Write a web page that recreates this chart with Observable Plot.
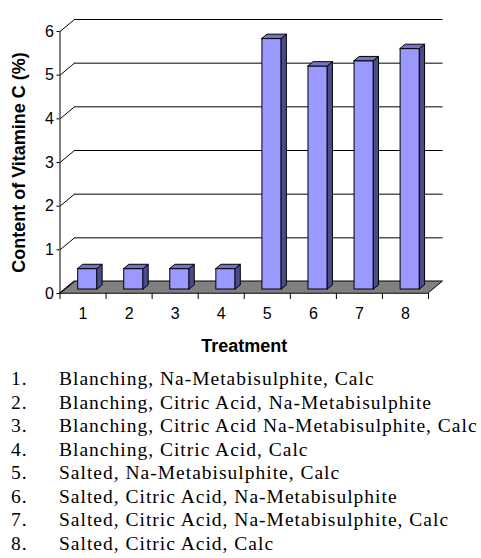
<!DOCTYPE html>
<html>
<head>
<meta charset="utf-8">
<script src="https://cdn.jsdelivr.net/npm/d3@7"></script>
<script src="https://cdn.jsdelivr.net/npm/@observablehq/plot@0.6"></script>
<style>
  html, body { margin: 0; padding: 0; background: #fff; }
  #chart svg { display: block; }
  #list { font-family: "Liberation Serif", "Times New Roman", serif; font-size: 19.5px; letter-spacing: 1px; line-height: 23.5px; color: #000; padding-top: 7px; }
  .row { position: relative; height: 23.5px; white-space: nowrap; }
  .num { position: absolute; left: 11px; }
  .desc { position: absolute; left: 59px; }
</style>
</head>
<body>
<div id="chart"></div>
<div id="list"></div>
<script>
// ---- data ----
const treatments = [1, 2, 3, 4, 5, 6, 7, 8];
const vitaminC = [0.47, 0.47, 0.47, 0.47, 5.74, 5.11, 5.23, 5.51];
const yTicks = [0, 1, 2, 3, 4, 5, 6];
const descriptions = [
  "Blanching, Na-Metabisulphite, Calc",
  "Blanching, Citric Acid, Na-Metabisulphite",
  "Blanching, Citric Acid Na-Metabisulphite, Calc",
  "Blanching, Citric Acid, Calc",
  "Salted, Na-Metabisulphite, Calc",
  "Salted, Citric Acid, Na-Metabisulphite",
  "Salted, Citric Acid, Na-Metabisulphite, Calc",
  "Salted, Citric Acid, Calc"
];
const yLabel = "Content of Vitamine C (%)";
const xLabel = "Treatment";

// ---- geometry ----
const W = 481, H = 360;
const mL = 59.5, mR = 53, mT = 31, mB = 67;
const n = treatments.length;
const x0 = 0.5, x1 = n + 0.5;
const kx = (W - mL - mR) / n;      // px per x unit
const ky = (H - mT - mB) / 6;      // px per y unit
const DX = 14.5 / kx, DY = 12 / ky; // full depth of the 3D box
const f1 = 1 / 3, b = 0.35;         // bar front depth fraction, bar depth
const bw = 19.4 / kx;               // bar width

const bars = treatments.map((t, i) => {
  const v = vitaminC[i];
  const xa = t - bw / 2 + f1 * DX, xb = t + bw / 2 + f1 * DX, y0 = f1 * DY;
  return {t, v, xa, xb, y0, y1: v + y0};
});
const sides = bars.flatMap(d => [
  {t: d.t, x: d.xb, lo: d.y0, hi: d.y1},
  {t: d.t, x: d.xb + b * DX, lo: d.y0 + b * DY, hi: d.y1 + b * DY}
]);
const tops = bars.flatMap(d => [
  {t: d.t, y: d.y1, xa: d.xa, xb: d.xb},
  {t: d.t, y: d.y1 + b * DY, xa: d.xa + b * DX, xb: d.xb + b * DX}
]);
const floor = [
  {y: 0, xa: x0, xb: x1},
  {y: DY, xa: x0 + DX, xb: x1 + DX}
];
const boundaries = d3.range(n + 1).map(i => i + 0.5);

const plot = Plot.plot({
  width: W, height: H,
  marginLeft: mL, marginRight: mR, marginTop: mT, marginBottom: mB,
  style: {fontFamily: "'Liberation Sans', Arial, sans-serif", fontSize: "16px", color: "#000", background: "#fff"},
  x: {type: "linear", domain: [x0, x1], axis: null},
  y: {domain: [0, 6]},
  marks: [
    Plot.areaX(floor, {y: "y", x1: "xa", x2: "xb", fill: "#808080", stroke: "#000", strokeWidth: 1}),
    Plot.ruleY(yTicks.filter(v => v > 0), {y: v => v + DY, x1: x0 + DX, x2: x1 + DX, stroke: "#000", strokeWidth: 1}),
    Plot.link(yTicks, {x1: x0, y1: v => v, x2: x0 + DX, y2: v => v + DY, stroke: "#000", strokeWidth: 1}),
    Plot.ruleX([x0], {y1: 0, y2: 6, stroke: "#000", strokeWidth: 1}),
    Plot.ruleX(boundaries, {x: d => d, y1: 0, y2: -6 / ky, stroke: "#000", strokeWidth: 1}),
    Plot.axisY({ticks: yTicks, tickSize: 3, tickPadding: 3, fontSize: 16, label: null, tickFormat: d3.format("d")}),
    Plot.text(treatments, {x: d => d, y: 0, dy: 20, text: d => String(d), fontSize: 16, lineAnchor: "middle"}),
    Plot.text([xLabel], {x: (x0 + x1) / 2, y: 0, dy: 53, text: d => d, fontSize: 18, fontWeight: "bold", lineAnchor: "middle"}),
    Plot.text([yLabel], {x: x0, y: 3, dx: -41, rotate: -90, text: d => d, fontSize: 18, fontWeight: "bold", lineAnchor: "middle"}),
    Plot.rect(bars, {x1: "xa", x2: "xb", y1: "y0", y2: "y1", fill: "#9999FF", stroke: "#000", strokeWidth: 1}),
    Plot.areaY(sides, {x: "x", y1: "lo", y2: "hi", z: "t", fill: "#4B4B8C", stroke: "#000", strokeWidth: 1}),
    Plot.areaX(tops, {y: "y", x1: "xa", x2: "xb", z: "t", fill: "#7373C6", stroke: "#000", strokeWidth: 1})
  ]
});
document.getElementById("chart").appendChild(plot);

const list = d3.select("#list");
treatments.forEach((t, i) => {
  const row = list.append("div").attr("class", "row");
  row.append("span").attr("class", "num").text(t + ".");
  row.append("span").attr("class", "desc").text(descriptions[i]);
});
</script>
</body>
</html>
